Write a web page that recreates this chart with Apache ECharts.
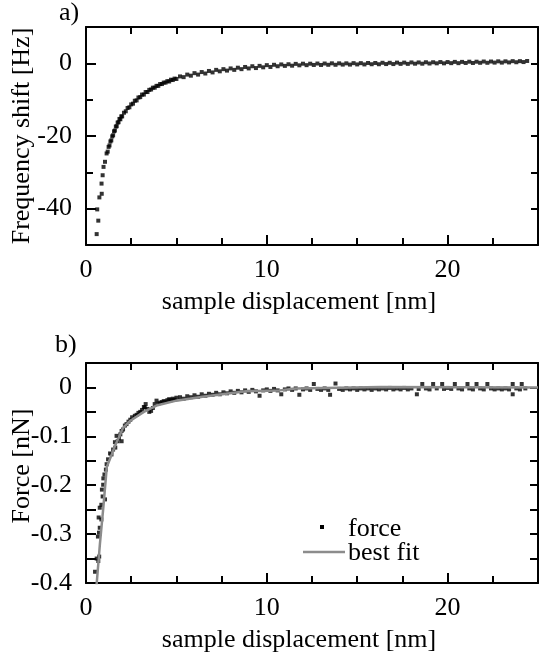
<!DOCTYPE html>
<html>
<head>
<meta charset="utf-8">
<script src="https://cdn.jsdelivr.net/npm/echarts@6.0.0/dist/echarts.min.js"></script>
<style>
  html, body { margin: 0; padding: 0; background: #fff; }
  #chart { width: 539px; height: 664px; }
</style>
</head>
<body>
<div id="chart"></div>
<script>
// Frequency shift [Hz] vs sample displacement [nm] — sparse points near contact
const freqSteep = [
  [0.59, -47.0], [0.68, -43.3], [0.62, -40.2], [0.74, -36.9], [0.87, -35.9],
  [0.86, -33.1], [0.92, -30.8], [0.97, -28.5], [1.05, -27.1], [1.14, -24.8]
];
// Frequency shift, dense part of the sweep
const freqBand = [
  [1.20, -24.3], [1.25, -23.0], [1.30, -22.6], [1.35, -21.5], [1.40, -21.2], [1.45, -20.1],
  [1.50, -19.8], [1.55, -18.7], [1.60, -18.5], [1.65, -17.4], [1.70, -17.3], [1.75, -16.3],
  [1.80, -16.2], [1.85, -15.3], [1.90, -15.4], [1.95, -14.6], [2.00, -14.6], [2.10, -13.6],
  [2.20, -13.2], [2.30, -12.3], [2.40, -12.1], [2.50, -11.3], [2.60, -11.1], [2.70, -10.3],
  [2.80, -10.2], [2.90, -9.4], [3.00, -9.3], [3.10, -8.6], [3.20, -8.6], [3.30, -7.9],
  [3.40, -7.9], [3.50, -7.3], [3.60, -7.2], [3.70, -6.7], [3.80, -6.7], [3.90, -6.2],
  [4.00, -6.2], [4.10, -5.7], [4.20, -5.7], [4.30, -5.3], [4.40, -5.3], [4.50, -4.9],
  [4.60, -5.0], [4.70, -4.5], [4.80, -4.6], [4.90, -4.2], [5.00, -4.3],
  [5.2, -3.6], [5.4, -3.8], [5.6, -3.1], [5.8, -3.4], [6.0, -2.7], [6.2, -3.1],
  [6.4, -2.4], [6.6, -2.8], [6.8, -2.1], [7.0, -2.5], [7.2, -1.8], [7.4, -2.2],
  [7.6, -1.6], [7.8, -2.0], [8.0, -1.4], [8.2, -1.8], [8.4, -1.2], [8.6, -1.6],
  [8.8, -1.0], [9.0, -1.4], [9.2, -0.8], [9.4, -1.3], [9.6, -0.7], [9.8, -1.1],
  [10.0, -0.5], [10.2, -1.0], [10.4, -0.4], [10.6, -0.8], [10.8, -0.3], [11.0, -0.7],
  [11.2, -0.25], [11.4, -0.65], [11.6, -0.15], [11.8, -0.55], [12.0, -0.1], [12.2, -0.5],
  [12.4, -0.1], [12.6, -0.45], [12.8, -0.05], [13.0, -0.45], [13.2, -0.05], [13.4, -0.4],
  [13.6, 0.0], [13.8, -0.4], [14.0, 0.0], [14.2, -0.35], [14.4, 0.0], [14.6, -0.35],
  [14.8, 0.05], [15.0, -0.3], [15.2, 0.05], [15.4, -0.3], [15.6, 0.1], [15.8, -0.25],
  [16.0, 0.1], [16.2, -0.25], [16.4, 0.15], [16.6, -0.2], [16.8, 0.15], [17.0, -0.2],
  [17.2, 0.2], [17.4, -0.15], [17.6, 0.2], [17.8, -0.15], [18.0, 0.25], [18.2, -0.1],
  [18.4, 0.25], [18.6, -0.1], [18.8, 0.3], [19.0, -0.05], [19.2, 0.3], [19.4, 0.0],
  [19.6, 0.35], [19.8, 0.0], [20.0, 0.35], [20.2, 0.05], [20.4, 0.4], [20.6, 0.05],
  [20.8, 0.4], [21.0, 0.1], [21.2, 0.45], [21.4, 0.1], [21.6, 0.45], [21.8, 0.15],
  [22.0, 0.5], [22.2, 0.15], [22.4, 0.5], [22.6, 0.2], [22.8, 0.55], [23.0, 0.2],
  [23.2, 0.55], [23.4, 0.25], [23.6, 0.6], [23.8, 0.3], [24.0, 0.6], [24.2, 0.35],
  [24.4, 0.65]
];

// Force [nN] vs sample displacement [nm] — close range
const forceNear = [
  [0.50, -0.377], [0.59, -0.350], [0.68, -0.355], [0.73, -0.346], [0.66, -0.305],
  [0.72, -0.297], [0.76, -0.287], [0.70, -0.266], [0.85, -0.270], [0.76, -0.246],
  [0.85, -0.240], [0.92, -0.223], [1.05, -0.229], [0.88, -0.209], [0.95, -0.199],
  [0.96, -0.186], [1.02, -0.178], [1.10, -0.168], [1.14, -0.157], [1.22, -0.147],
  [1.33, -0.135], [1.41, -0.137], [1.50, -0.127], [1.60, -0.112], [1.62, -0.123],
  [1.69, -0.099], [1.75, -0.110], [1.82, -0.104], [1.90, -0.096], [1.97, -0.110],
  [1.97, -0.089], [2.05, -0.086], [2.15, -0.078], [2.24, -0.075], [2.35, -0.070],
  [2.45, -0.066], [2.55, -0.061], [2.70, -0.058], [2.80, -0.056], [2.90, -0.052],
  [3.00, -0.050], [3.10, -0.046], [3.20, -0.040], [3.25, -0.041], [3.30, -0.034],
  [3.40, -0.044], [3.50, -0.050], [3.60, -0.048], [3.70, -0.042], [3.80, -0.034],
  [3.90, -0.027], [4.00, -0.033], [4.10, -0.031], [4.20, -0.030], [4.30, -0.028],
  [4.40, -0.029], [4.50, -0.026], [4.60, -0.024], [4.70, -0.026], [4.80, -0.023],
  [4.90, -0.025], [5.00, -0.021]
];
// Force — long range tail
const forceFar = [
  [5.2, -0.020], [5.4, -0.023], [5.6, -0.018], [5.8, -0.020], [6.0, -0.016], [6.2, -0.019],
  [6.4, -0.014], [6.6, -0.017], [6.8, -0.013], [7.0, -0.015], [7.2, -0.011], [7.4, -0.014],
  [7.6, -0.010], [7.8, -0.012], [8.0, -0.008], [8.2, -0.011], [8.4, -0.007], [8.6, -0.010],
  [8.8, -0.006], [9.0, -0.009], [9.2, -0.005], [9.4, -0.008], [9.6, -0.017], [9.8, -0.006],
  [10.0, -0.004], [10.2, -0.007], [10.4, -0.003], [10.6, -0.006], [10.8, -0.014], [11.0, -0.004],
  [11.2, -0.002], [11.4, -0.005], [11.6, -0.002], [11.8, -0.015], [12.0, -0.004], [12.2, -0.002],
  [12.4, -0.005], [12.6, 0.007], [12.8, -0.003], [13.0, -0.005], [13.2, -0.002], [13.4, -0.005],
  [13.5, -0.015], [13.8, 0.008], [14.0, -0.003], [14.2, -0.005], [14.4, -0.002], [14.6, -0.004],
  [14.8, -0.002], [15.0, -0.005], [15.2, -0.002], [15.4, -0.004], [15.6, -0.002], [15.8, -0.005],
  [16.0, -0.002], [16.2, -0.004], [16.4, -0.002], [16.6, -0.004], [16.8, -0.001], [17.0, -0.004],
  [17.2, -0.002], [17.4, -0.004], [17.6, -0.001], [17.8, -0.004], [18.0, -0.002], [18.3, -0.014],
  [18.4, -0.003], [18.6, 0.007], [18.8, -0.002], [19.0, -0.004], [19.2, 0.007], [19.4, -0.002],
  [19.7, 0.007], [19.8, -0.003], [20.0, -0.001], [20.2, -0.003], [20.4, 0.007], [20.6, -0.002],
  [20.8, -0.004], [21.1, 0.007], [21.2, -0.002], [21.4, -0.004], [21.6, 0.007], [21.8, -0.002],
  [22.0, -0.004], [22.2, 0.007], [22.4, -0.002], [22.6, -0.004], [22.8, -0.002], [23.0, -0.004],
  [23.2, -0.002], [23.4, -0.004], [23.6, 0.007], [23.6, -0.014], [23.8, -0.002], [24.0, -0.004],
  [24.1, 0.007], [24.3, -0.002]
];

// Best-fit curve nodes
const fitDisp  = [0.55, 0.77, 0.96, 1.15, 1.60, 2.06, 2.45, 3.20, 3.90, 5.00, 6.45, 8.85, 10.7, 11.6, 16.3, 25.0];
const fitForce = [-0.420, -0.320, -0.245, -0.163, -0.120, -0.082, -0.068, -0.050, -0.037, -0.027, -0.019, -0.008, -0.006, -0.002, 0.001, 0.000];

// Tick positions
const dispMajorTicks = [0, 10, 20];
const freqMajorTicks = [-40, -20, 0];

const FONT = '"Liberation Serif", "Times New Roman", serif';
const BLACK = '#000';
const FIT_GREY = '#8c8c8c';

const chart = echarts.init(document.getElementById('chart'), null, { renderer: 'canvas' });

const lineStyle = { color: BLACK, width: 2 };
const textStyle = { fontFamily: FONT, fontSize: 26, color: BLACK };

function dispAxis(gridIndex, position, withLabels) {
  return {
    type: 'value', gridIndex, position, min: 0, max: 25, interval: 2.5,
    name: withLabels ? 'sample displacement [nm]' : '',
    nameLocation: 'middle', nameGap: 44, nameMoveOverlap: false,
    nameTextStyle: { ...textStyle, padding: [0, 26, 0, 0] },
    axisLine: { show: true, onZero: false, lineStyle },
    axisTick: { show: true, inside: true, length: 7, lineStyle },
    axisLabel: {
      show: withLabels, margin: 12, ...textStyle,
      formatter: v => (Math.abs(v % 10) < 1e-9 ? String(v) : '')
    },
    splitLine: { show: false }
  };
}
function dispMajor(gridIndex) {
  return {
    type: 'value', gridIndex, position: 'bottom', min: 0, max: 25,
    axisLine: { show: false, onZero: false },
    axisTick: { show: true, inside: true, length: 10, lineStyle, customValues: dispMajorTicks },
    axisLabel: { show: false }, splitLine: { show: false }
  };
}

const option = {
  animation: false,
  backgroundColor: '#fff',
  grid: [
    { left: 86, top: 27, width: 452, height: 218, outerBoundsMode: 'none', containLabel: false },
    { left: 86, top: 363, width: 452, height: 220, outerBoundsMode: 'none', containLabel: false }
  ],
  xAxis: [
    dispAxis(0, 'bottom', true),
    dispMajor(0),
    dispAxis(0, 'top', false),
    dispAxis(1, 'bottom', true),
    dispMajor(1),
    dispAxis(1, 'top', false)
  ],
  yAxis: [
    {
      type: 'value', gridIndex: 0, position: 'left', min: -50, max: 10, interval: 10,
      name: 'Frequency shift [Hz]', nameLocation: 'middle', nameGap: 51, nameMoveOverlap: false,
      nameTextStyle: textStyle,
      axisLine: { show: true, onZero: false, lineStyle },
      axisTick: { show: true, inside: true, length: 7, lineStyle },
      axisLabel: { margin: 14, ...textStyle, formatter: v => (Math.abs(v % 20) < 1e-9 ? String(v) : '') },
      splitLine: { show: false }
    },
    {
      type: 'value', gridIndex: 0, position: 'left', min: -50, max: 10,
      axisLine: { show: false, onZero: false },
      axisTick: { show: true, inside: true, length: 10, lineStyle, customValues: freqMajorTicks },
      axisLabel: { show: false }, splitLine: { show: false }
    },
    {
      type: 'value', gridIndex: 0, position: 'right', min: -50, max: 10, interval: 10,
      axisLine: { show: true, onZero: false, lineStyle },
      axisTick: { show: true, inside: true, length: 7, lineStyle },
      axisLabel: { show: false }, splitLine: { show: false }
    },
    {
      type: 'value', gridIndex: 1, position: 'left', min: -0.4, max: 0.05, interval: 0.05,
      name: 'Force [nN]', nameLocation: 'middle', nameGap: 51, nameMoveOverlap: false,
      nameTextStyle: { ...textStyle, padding: [0, 0, 0, 14] },
      axisLine: { show: true, onZero: false, lineStyle },
      axisTick: { show: true, inside: true, length: 10, lineStyle },
      axisLabel: {
        margin: 14, ...textStyle,
        formatter: v => { const r = Math.round(v * 100); return r % 10 === 0 ? String(r / 100) : ''; }
      },
      splitLine: { show: false }
    },
    {
      type: 'value', gridIndex: 1, position: 'right', min: -0.4, max: 0.05, interval: 0.05,
      axisLine: { show: true, onZero: false, lineStyle },
      axisTick: { show: true, inside: true, length: 8, lineStyle },
      axisLabel: { show: false }, splitLine: { show: false }
    }
  ],
  graphic: [
    { type: 'text', left: 59, top: 0, style: { text: 'a)', font: '26px ' + FONT, fill: BLACK } },
    { type: 'text', left: 55, top: 332, style: { text: 'b)', font: '26px ' + FONT, fill: BLACK } },
    // key for panel b)
    { type: 'rect', shape: { x: 320, y: 525, width: 4, height: 4 }, style: { fill: BLACK } },
    { type: 'text', style: { x: 348, y: 529, text: 'force', font: '26px ' + FONT, fill: BLACK, verticalAlign: 'middle' } },
    { type: 'line', shape: { x1: 303, y1: 552, x2: 345, y2: 552 }, style: { stroke: FIT_GREY, lineWidth: 2.5 } },
    { type: 'text', style: { x: 348, y: 553, text: 'best fit', font: '26px ' + FONT, fill: BLACK, verticalAlign: 'middle' } }
  ],
  series: [
    {
      name: 'frequency shift', type: 'scatter', xAxisIndex: 0, yAxisIndex: 0,
      symbol: 'rect', symbolSize: [4, 4], itemStyle: { color: BLACK },
      data: freqSteep.concat(freqBand), silent: true
    },
    {
      name: 'force', type: 'scatter', xAxisIndex: 3, yAxisIndex: 3,
      symbol: 'rect', symbolSize: [4, 4], itemStyle: { color: BLACK },
      data: forceNear.concat(forceFar), silent: true
    },
    {
      name: 'best fit', type: 'line', xAxisIndex: 3, yAxisIndex: 3,
      symbol: 'none', smooth: false, clip: true, z: 5,
      lineStyle: { color: FIT_GREY, width: 2.5 }, itemStyle: { color: FIT_GREY },
      data: fitDisp.map((x, i) => [x, fitForce[i]]), silent: true
    }
  ]
};

chart.setOption(option);
</script>
</body>
</html>
